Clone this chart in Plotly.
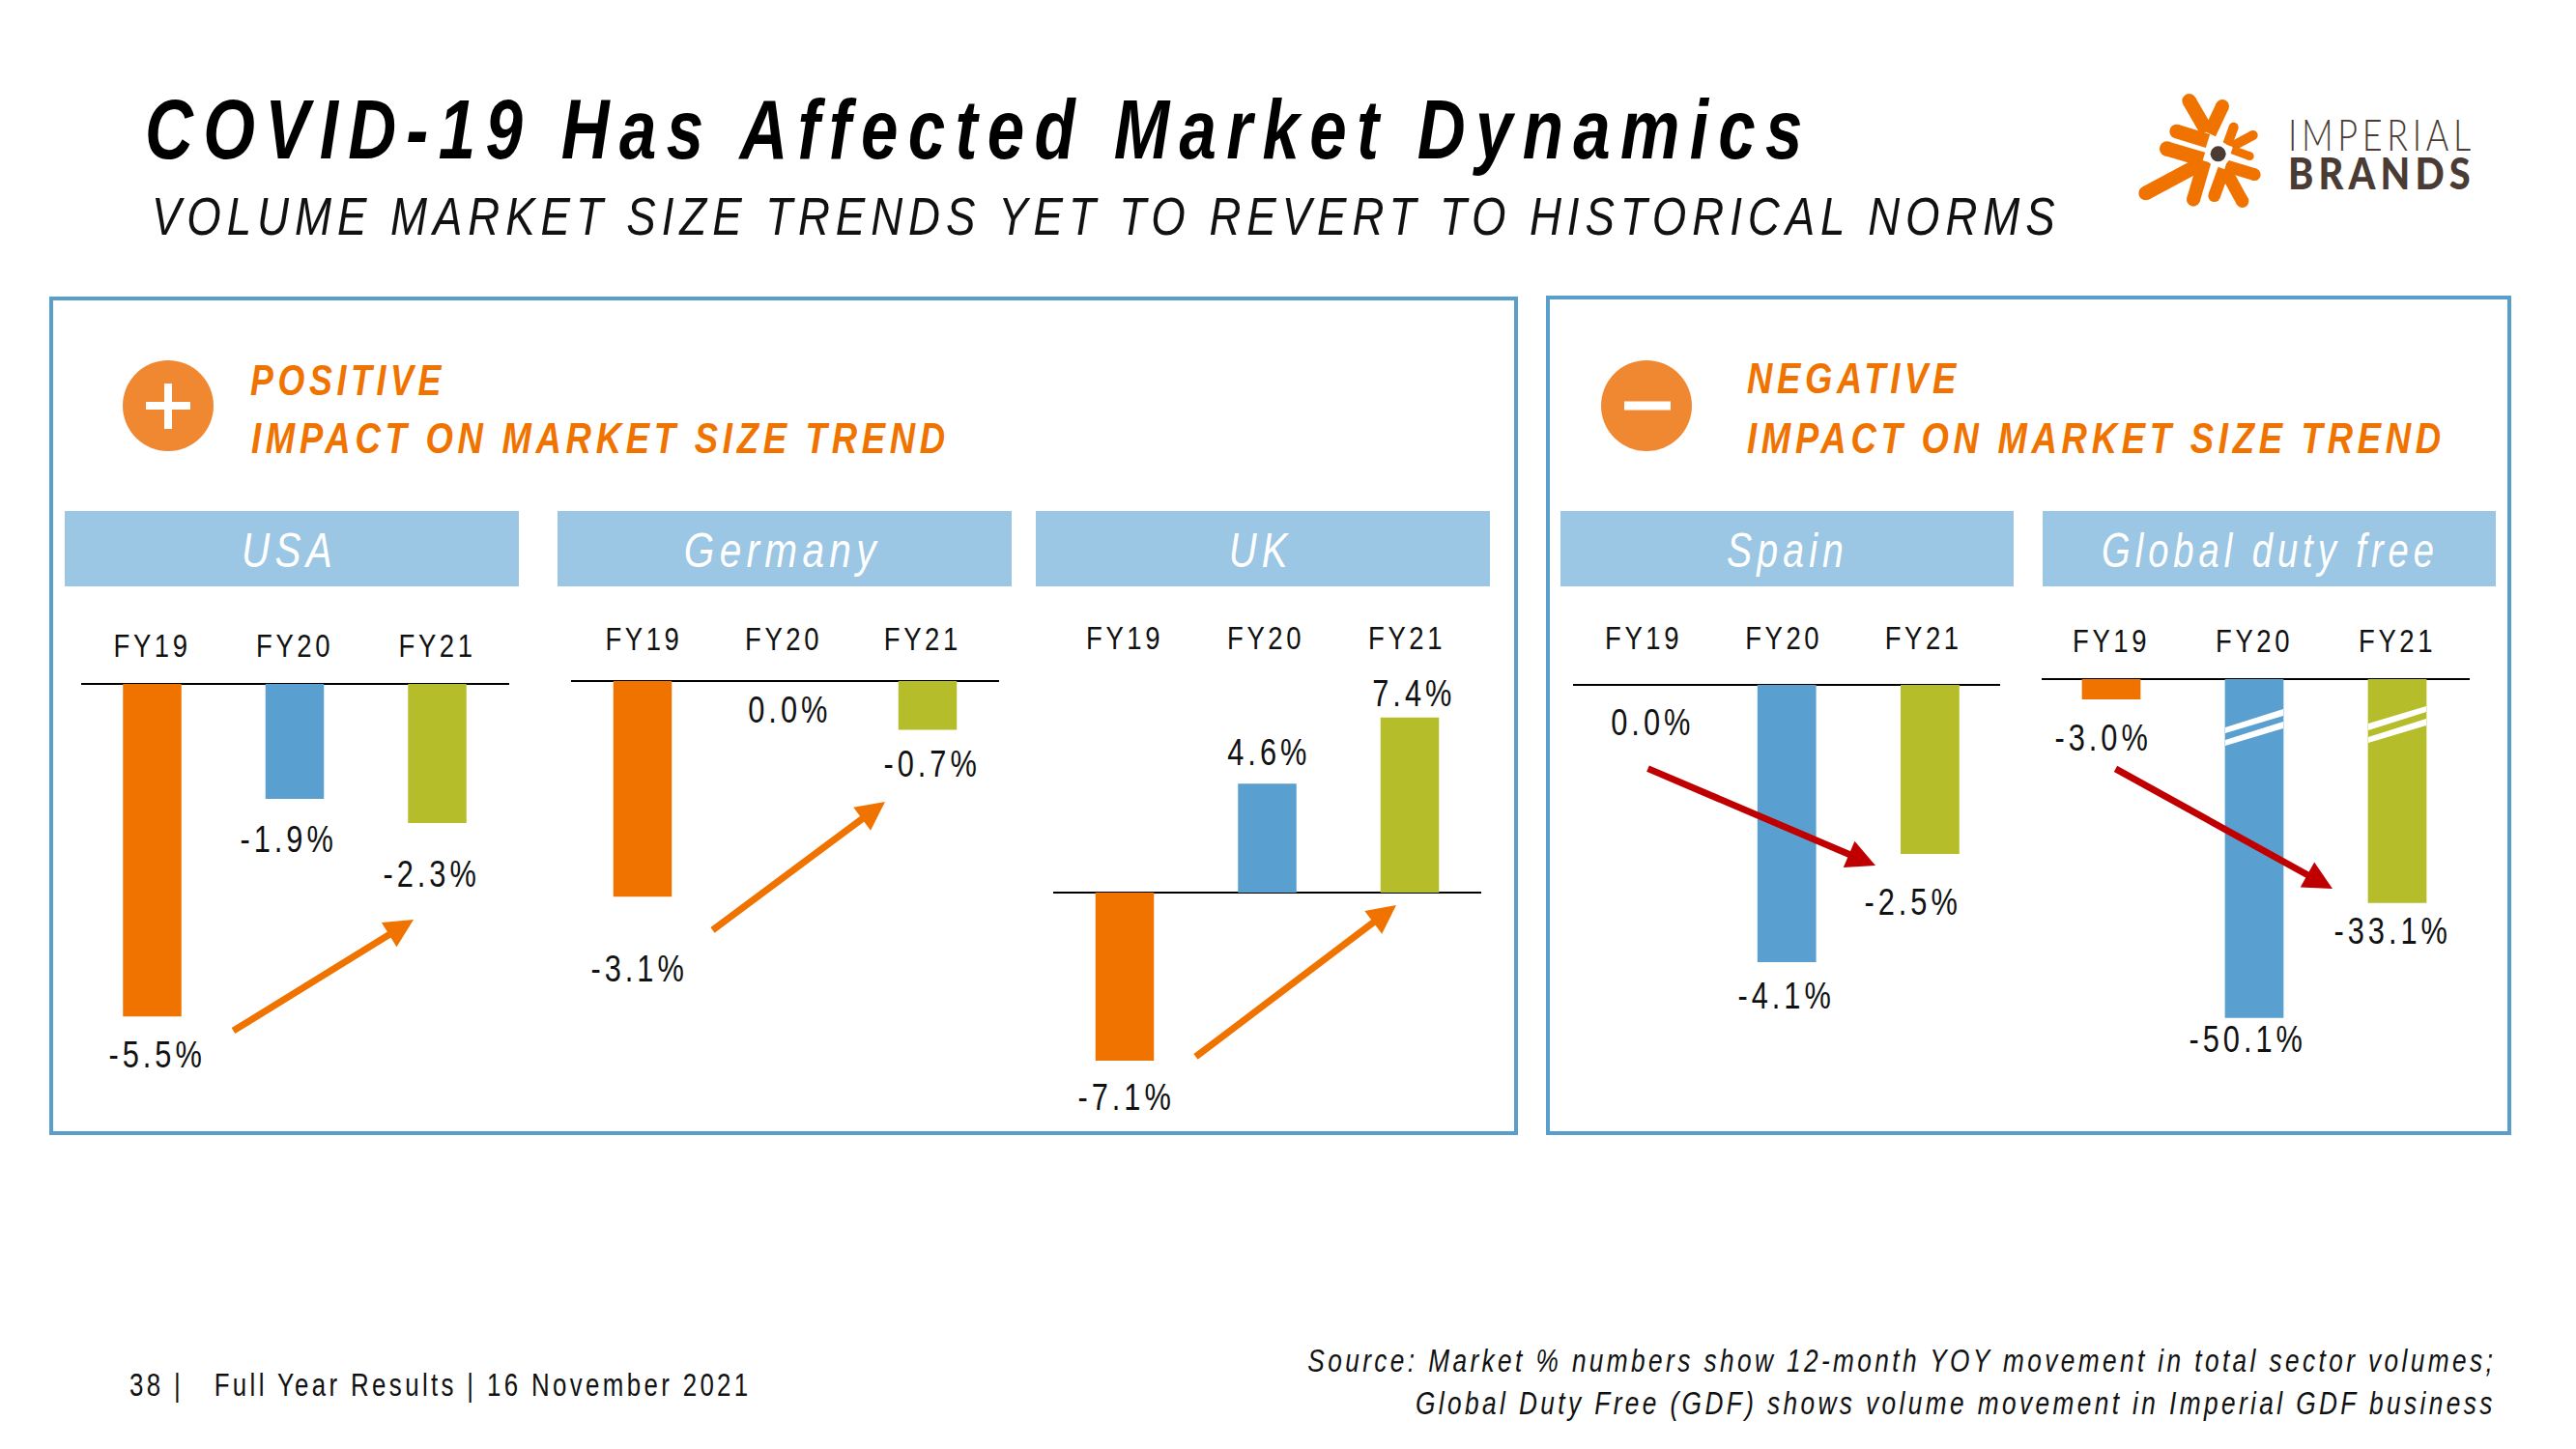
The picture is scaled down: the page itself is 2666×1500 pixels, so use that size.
import json
import math
import plotly.graph_objects as go

W, H = 2666, 1500

# ---- data ----
periods = ["FY19", "FY20", "FY21"]
usa = [-5.5, -1.9, -2.3]
germany = [-3.1, 0.0, -0.7]
uk = [-7.1, 4.6, 7.4]
spain = [0.0, -4.1, -2.5]
gdf = [-3.0, -50.1, -33.1]
market_names = ["USA", "Germany", "UK", "Spain", "Global duty free"]
market_values = [usa, germany, uk, spain, gdf]

ORANGE, BLUE, GREEN = "#F07300", "#599FCF", "#B5BE2A"
BAR_COLORS = [ORANGE, BLUE, GREEN]
HEAD = "#9BC6E4"
FRAME = "#5A9FCC"
CIRCLE = "#F08832"
RED = "#C00000"
DARK = "#4A3C34"
SANS = "Liberation Sans, Arial, sans-serif"

# panel geometry in page pixels
panels = [
    dict(x0=84, x1=527, c0=157.5, step=147.5, base=708, scale=62.6, label_bottom=688, head=(67, 537), head_c=299, ticks=[0, 1, 2]),
    dict(x0=591, x1=1034, c0=665, step=147.5, base=705, scale=72.0, label_bottom=681, head=(577, 1047), head_c=811, ticks=[0.01, 0.99, 1.965]),
    dict(x0=1090, x1=1533, c0=1164, step=147.5, base=924, scale=24.5, label_bottom=680, head=(1072, 1542), head_c=1306, ticks=[0, 0.99, 1.98]),
    dict(x0=1628, x1=2070, c0=1701, step=148.2, base=709, scale=70.0, label_bottom=680, head=(1615, 2084), head_c=1850, ticks=[0, 0.98, 1.955]),
    dict(x0=2113, x1=2556, c0=2185, step=148.0, base=703, scale=7.0, label_bottom=683, head=(2114, 2583), head_c=2349, ticks=[0, 1, 2]),
]
BOTTOM = 1168


def px(x):
    return x / W


def py(y):
    return 1 - y / H


fig = go.Figure()
layout = {}
for i, (name, vals, p) in enumerate(zip(market_names, market_values, panels)):
    s = "" if i == 0 else str(i + 1)
    fig.add_trace(go.Bar(
        x=[0, 1, 2], y=vals, width=0.41, marker=dict(color=BAR_COLORS, line=dict(width=0)),
        xaxis="x" + s, yaxis="y" + s, name=name, showlegend=False, hoverinfo="skip",
    ))
    layout["xaxis" + s] = dict(
        domain=[px(p["x0"]), px(p["x1"])],
        range=[(p["x0"] - p["c0"]) / p["step"], (p["x1"] - p["c0"]) / p["step"]],
        anchor="y" + s, side="top", tickmode="array", tickvals=p["ticks"], ticktext=periods,
        showgrid=False, zeroline=False, showline=False, ticks="", ticklen=0,
        tickfont=dict(family=SANS, size=33, color="#111"), fixedrange=True,
    )
    layout["yaxis" + s] = dict(
        domain=[py(BOTTOM), py(p["label_bottom"])],
        range=[(p["base"] - BOTTOM) / p["scale"], (p["base"] - p["label_bottom"]) / p["scale"]],
        anchor="x" + s, showgrid=False, showticklabels=False, ticks="", showline=False,
        zeroline=True, zerolinecolor="#000", zerolinewidth=2, fixedrange=True,
    )

shapes = []


def rect(x0, y0, x1, y1, fill=None, line=None, lw=0, layer="below"):
    shapes.append(dict(type="rect", xref="paper", yref="paper", x0=px(x0), x1=px(x1), y0=py(y0), y1=py(y1),
                       fillcolor=fill or "rgba(0,0,0,0)", line=dict(color=line or "rgba(0,0,0,0)", width=lw), layer=layer))


def circle(cx, cy, r, fill, layer="above"):
    shapes.append(dict(type="circle", xref="paper", yref="paper", x0=px(cx - r), x1=px(cx + r), y0=py(cy - r),
                       y1=py(cy + r), fillcolor=fill, line=dict(width=0), layer=layer))


def poly(pts, fill, layer="above"):
    d = "M " + " L ".join(f"{px(x):.6f},{py(y):.6f}" for x, y in pts) + " Z"
    shapes.append(dict(type="path", xref="paper", yref="paper", path=d, fillcolor=fill, line=dict(width=0), layer=layer))


# frames
rect(53, 309, 1569, 1173, line=FRAME, lw=4)
rect(1602, 308, 2597, 1173, line=FRAME, lw=4)
# header strips
for p in panels:
    rect(p["head"][0], 529, p["head"][1], 607, fill=HEAD)
# plus / minus badges
circle(174, 420, 47, CIRCLE)
rect(151, 416, 197, 424, fill="#fff", layer="above")
rect(170, 397, 178, 444, fill="#fff", layer="above")
circle(1704, 420, 47, CIRCLE)
rect(1681, 415.5, 1729, 424.5, fill="#fff", layer="above")
# axis-break marks on the Global duty free bars
for bx0, bx1, stripes in [
    (2303, 2363, [(753, 759, 734, 741), (766, 772, 747, 754)]),
    (2451, 2511, [(749, 756, 731, 737), (763, 769, 744, 751)]),
]:
    for a, b, c, d in stripes:
        poly([(bx0, a), (bx1, c), (bx1, d), (bx0, b)], "#fff")

# logo
LX, LY = 2100, 60


def stroke(x0, y0, x1, y1, w):
    x0, y0, x1, y1 = LX + x0 / 3, LY + y0 / 3, LX + x1 / 3, LY + y1 / 3
    w = w / 3
    L = math.hypot(x1 - x0, y1 - y0)
    nx, ny = -(y1 - y0) / L * w / 2, (x1 - x0) / L * w / 2
    poly([(x0 + nx, y0 + ny), (x1 + nx, y1 + ny), (x1 - nx, y1 - ny), (x0 - nx, y0 - ny)], ORANGE)
    circle(x0, y0, w / 2, ORANGE)


for seg in [
    (497, 133, 552, 228, 44), (600, 150, 560, 235, 42), (458, 228, 555, 258, 44), (428, 282, 540, 315, 46),
    (362, 420, 530, 330, 44), (510, 440, 545, 320, 42), (575, 428, 605, 345, 38), (662, 445, 610, 350, 40),
    (700, 362, 610, 335, 38), (635, 215, 615, 270, 30), (695, 240, 630, 275, 30), (685, 305, 630, 285, 26),
]:
    stroke(*seg)
circle(LX + 587 / 3, LY + 298 / 3, 13, "#fff")
circle(LX + 587 / 3, LY + 298 / 3, 8, DARK)

annotations = []
fit = {}  # text -> [target width or None, x-scale or None, origin]


def label(text, x, y, size, color="#111", family=SANS, anchor="center", weight=400, italic=False, width=None, sx=None):
    annotations.append(dict(
        text=text, xref="paper", yref="paper", x=px(x), y=py(y), xanchor=anchor, yanchor="middle", showarrow=False,
        align=anchor,
        font=dict(family=family, size=size, color=color, weight=weight,
                  style="italic" if italic else "normal"),
    ))
    fit[text] = [width, sx, {"left": 0, "center": 0.5, "right": 1}[anchor]]


label("VOLUME MARKET SIZE TRENDS YET TO REVERT TO HISTORICAL NORMS", 155, 224, 55, anchor="left", italic=True, width=1976)
label("POSITIVE", 257, 394, 44, color=ORANGE, anchor="left", weight=700, italic=True, width=202)
label("IMPACT ON MARKET SIZE TREND", 258, 454, 44, color=ORANGE, anchor="left", weight=700, italic=True, width=723)
label("NEGATIVE", 1806, 392, 44, color=ORANGE, anchor="left", weight=700, italic=True, width=221)
label("IMPACT ON MARKET SIZE TREND", 1806, 453, 44, color=ORANGE, anchor="left", weight=700, italic=True, width=723)
head_widths = [99, 204, 66, 126, 349]
for name, p, w in zip(market_names, panels, head_widths):
    label(name, p["head_c"], 570, 50, color="#fff", italic=True, width=w)

value_pos = [
    [(162, 1092), (298, 869), (446, 905)],
    [(661, 1003), (817, 735), (964, 791)],
    [(1165, 1136), (1313, 779), (1464, 718)],
    [(1710, 748), (1848, 1031), (1979, 934)],
    [(2176, 764), (2326, 1076), (2476, 964)],
]
for vals, pos in zip(market_values, value_pos):
    for v, (x, y) in zip(vals, pos):
        label(f"{v:.1f}%", x, y, 38, sx=0.81)

label("38 |\u00a0\u00a0\u00a0Full Year Results | 16 November 2021", 132, 1433, 33, anchor="left", width=644)
label("Source: Market % numbers show 12-month YOY movement in total sector volumes;", 2585, 1408, 33, anchor="right", italic=True, width=1230)
label("Global Duty Free (GDF) shows volume movement in Imperial GDF business", 2585, 1452, 33, anchor="right", italic=True, width=1118)
label("IMPERIAL", 2366, 139, 45, color=DARK, family="Lato, sans-serif", anchor="left", weight=300, width=194)
label("BRANDS", 2366, 179, 45, color=DARK, family="Lato, sans-serif", anchor="left", weight=900, width=194)

arrows = [
    ((240, 1068), (428, 952), ORANGE),
    ((736, 964), (916, 830), ORANGE),
    ((1236, 1095), (1445, 937), ORANGE),
    ((1704, 795), (1941, 896), RED),
    ((2188, 795), (2414, 920), RED),
]
for (x0, y0), (x1, y1), col in arrows:
    annotations.append(dict(
        text="", xref="paper", yref="paper", x=px(x1), y=py(y1), ax=x0 - x1, ay=y0 - y1, axref="pixel", ayref="pixel",
        showarrow=True, arrowhead=2, arrowsize=0.85, arrowwidth=7, arrowcolor=col, standoff=0,
    ))

TITLE = "COVID-19 Has Affected Market Dynamics"
fit[TITLE] = [1726, None, 0]
for t in periods:
    fit[t] = [80, None, 0.5]

fig.update_layout(
    width=W, height=H, margin=dict(l=0, r=0, t=0, b=0), paper_bgcolor="#fff", plot_bgcolor="rgba(0,0,0,0)",
    showlegend=False, barmode="relative", shapes=shapes, annotations=annotations,
    title=dict(text=TITLE, x=px(150), y=py(133), xanchor="left", yanchor="middle",
               font=dict(family=SANS, size=88, color="#000", weight=700, style="italic")),
    **layout,
)

post = """
document.body.style.margin='0';
var st=document.createElement('style');
st.textContent='.annotation-text{letter-spacing:.13em}g[class$="tick"] text{letter-spacing:.13em}.gtitle{letter-spacing:.15em}';
document.head.appendChild(st);
var fitMap=__FIT__;
var gd=document.getElementById('{plot_id}');
Plotly.redraw(gd).then(function(){
  gd.querySelectorAll('.annotation-text,g[class$="tick"] text,.gtitle').forEach(function(el){
    var f=fitMap[el.textContent.trim()];
    if(!f)return;
    var b=el.getBBox();
    if(!b.width)return;
    var s=f[1]||f[0]/b.width, ox=b.x+b.width*f[2];
    var old=el.getAttribute('transform')||'';
    el.setAttribute('transform',old+' translate('+ox+' 0) scale('+s+' 1) translate('+(-ox)+' 0)');
  });
});
""".replace("__FIT__", json.dumps(fit, ensure_ascii=False))
fig.write_html("out.html", post_script=post, config=dict(displayModeBar=False))
